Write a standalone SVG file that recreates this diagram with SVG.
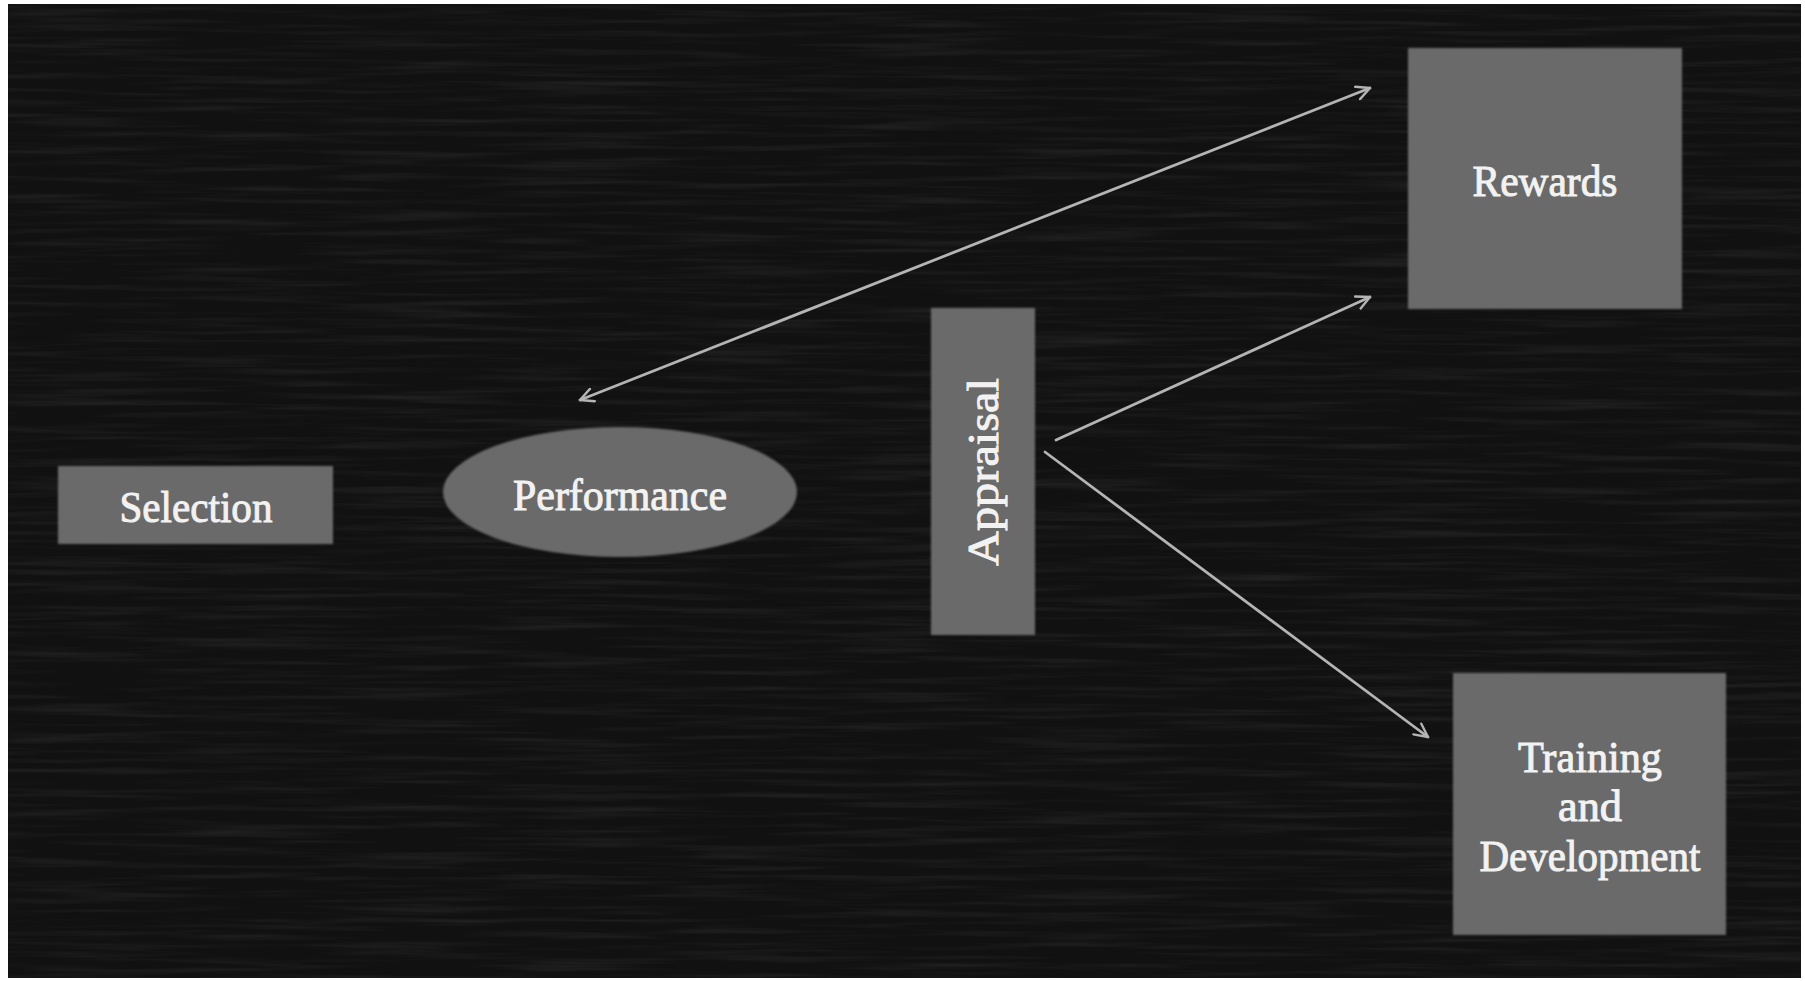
<svg xmlns="http://www.w3.org/2000/svg" width="1805" height="981" viewBox="0 0 1805 981">
  <style>
    .node { fill: #6a6a6a; }
    .label { font-family: "Liberation Serif", "Times New Roman", serif; font-size: 45px; fill: #f2f2f2; stroke: #f2f2f2; stroke-width: 1; text-anchor: middle; }
    .link { stroke: #b4b4b4; stroke-width: 2.8; fill: none; stroke-linecap: round; }
  </style>
  <defs>
    <filter id="grain" x="0" y="0" width="100%" height="100%">
      <feTurbulence type="fractalNoise" baseFrequency="0.006 0.16" numOctaves="3" seed="7" result="n"/>
      <feColorMatrix type="matrix" values="0 0 0 0 1  0 0 0 0 1  0 0 0 0 1  0.9 0 0 0 -0.4"/>
    </filter>
    <filter id="soft" x="-5%" y="-5%" width="110%" height="110%">
      <feGaussianBlur stdDeviation="0.8"/>
    </filter>
    <marker id="head" viewBox="0 0 12 12" refX="11" refY="6" markerWidth="16" markerHeight="16" markerUnits="userSpaceOnUse" orient="auto-start-reverse">
      <path d="M1,1 L11,6 L1,11" fill="none" stroke="#b4b4b4" stroke-width="1.8" stroke-linecap="round" stroke-linejoin="round"/>
    </marker>
  </defs>

  <!-- white frame and dark wooden board -->
  <rect x="0" y="0" width="1805" height="981" fill="#ffffff"/>
  <rect x="8" y="4" width="1793" height="974" fill="#111111"/>
  <rect x="8" y="4" width="1793" height="974" filter="url(#grain)" opacity="0.16"/>

  <g id="connectors">
    <line class="link" x1="580" y1="400" x2="1370" y2="88" marker-start="url(#head)" marker-end="url(#head)"/>
    <line class="link" x1="1056" y1="440" x2="1370" y2="297" marker-end="url(#head)"/>
    <line class="link" x1="1045" y1="452" x2="1428" y2="737" marker-end="url(#head)"/>
  </g>

  <g id="selection">
    <rect class="node" x="58" y="466" width="275" height="78" filter="url(#soft)"/>
    <text class="label" x="196" y="522" textLength="153" lengthAdjust="spacingAndGlyphs">Selection</text>
  </g>

  <g id="performance">
    <ellipse class="node" cx="620" cy="492" rx="177" ry="65" filter="url(#soft)"/>
    <text class="label" x="620" y="510" textLength="214" lengthAdjust="spacingAndGlyphs">Performance</text>
  </g>

  <g id="appraisal">
    <rect class="node" x="931" y="308" width="104" height="327" filter="url(#soft)"/>
    <text class="label" transform="translate(998,472) rotate(-90)" x="0" y="0" textLength="188" lengthAdjust="spacingAndGlyphs">Appraisal</text>
  </g>

  <g id="rewards">
    <rect class="node" x="1408" y="48" width="274" height="261" filter="url(#soft)"/>
    <text class="label" x="1545" y="196" textLength="145" lengthAdjust="spacingAndGlyphs">Rewards</text>
  </g>

  <g id="training">
    <rect class="node" x="1453" y="673" width="273" height="262" filter="url(#soft)"/>
    <text class="label" x="1590" y="772" textLength="144" lengthAdjust="spacingAndGlyphs">Training</text>
    <text class="label" x="1590" y="821" textLength="64" lengthAdjust="spacingAndGlyphs">and</text>
    <text class="label" x="1590" y="871" textLength="221" lengthAdjust="spacingAndGlyphs">Development</text>
  </g>
</svg>
